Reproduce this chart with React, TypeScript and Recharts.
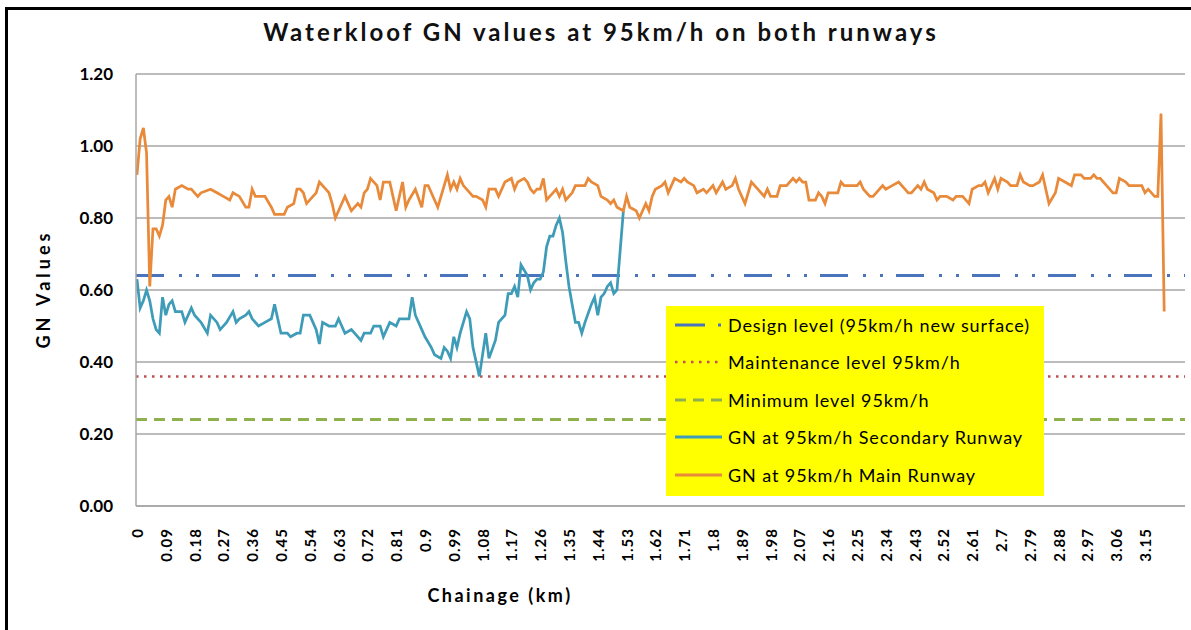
import React from "react";
import {
  LineChart,
  Line,
  XAxis,
  YAxis,
  CartesianGrid,
  ReferenceLine,
  Legend,
} from "recharts";

const FONT = "Lato, 'Open Sans', sans-serif";

// chainage (km) / GN readings, main runway
const mainChainage = [
  0.0, 0.01, 0.02, 0.03, 0.04, 0.05, 0.06, 0.07, 0.08, 0.09, 0.1, 0.11, 0.12, 0.14, 0.16, 0.17, 0.18, 0.19, 0.2,
  0.23, 0.25, 0.27, 0.29, 0.3, 0.32, 0.34, 0.35, 0.36, 0.37, 0.4, 0.42, 0.43, 0.45, 0.46, 0.47, 0.49, 0.5, 0.51,
  0.52, 0.53, 0.55, 0.56, 0.57, 0.59, 0.6, 0.61, 0.62, 0.63, 0.65, 0.66, 0.67, 0.69, 0.7, 0.71, 0.72, 0.73, 0.75,
  0.76, 0.77, 0.79, 0.8, 0.81, 0.83, 0.84, 0.85, 0.87, 0.89, 0.9, 0.91, 0.93, 0.94, 0.96, 0.97, 0.98, 0.99, 1.0,
  1.01, 1.02, 1.03, 1.05, 1.06, 1.08, 1.09, 1.1, 1.12, 1.13, 1.15, 1.17, 1.18, 1.19, 1.21, 1.22, 1.23, 1.24, 1.25,
  1.26, 1.27, 1.28, 1.3, 1.31, 1.32, 1.33, 1.34, 1.36, 1.37, 1.4, 1.41, 1.42, 1.44, 1.45, 1.47, 1.48, 1.49, 1.5,
  1.52, 1.53, 1.54, 1.56, 1.57, 1.58, 1.59, 1.6, 1.61, 1.62, 1.64, 1.65, 1.66, 1.67, 1.68, 1.7, 1.71, 1.72, 1.74,
  1.75, 1.77, 1.78, 1.8, 1.81, 1.83, 1.84, 1.86, 1.87, 1.88, 1.9, 1.91, 1.92, 1.94, 1.96, 1.97, 1.98, 2.0, 2.01,
  2.02, 2.03, 2.05, 2.06, 2.07, 2.08, 2.09, 2.1, 2.12, 2.13, 2.14, 2.15, 2.16, 2.18, 2.19, 2.2, 2.21, 2.23, 2.25,
  2.26, 2.27, 2.29, 2.3, 2.31, 2.33, 2.34, 2.36, 2.38, 2.4, 2.41, 2.42, 2.44, 2.45, 2.46, 2.47, 2.49, 2.5, 2.51,
  2.53, 2.55, 2.56, 2.58, 2.6, 2.61, 2.63, 2.64, 2.65, 2.66, 2.67, 2.68, 2.69, 2.7, 2.72, 2.73, 2.75, 2.76, 2.77,
  2.79, 2.8, 2.82, 2.83, 2.84, 2.85, 2.87, 2.88, 2.9, 2.92, 2.93, 2.95, 2.96, 2.98, 2.99, 3.0, 3.01, 3.03, 3.05,
  3.06, 3.07, 3.09, 3.1, 3.12, 3.14, 3.15, 3.16, 3.18, 3.19, 3.2, 3.21,
];
const mainGN = [
  0.92, 1.02, 1.05, 0.98, 0.61, 0.77, 0.77, 0.75, 0.78, 0.85, 0.86, 0.83, 0.88, 0.89, 0.88, 0.88, 0.87, 0.86, 0.87,
  0.88, 0.87, 0.86, 0.85, 0.87, 0.86, 0.83, 0.83, 0.88, 0.86, 0.86, 0.83, 0.81, 0.81, 0.81, 0.83, 0.84, 0.88, 0.88,
  0.87, 0.84, 0.86, 0.87, 0.9, 0.88, 0.87, 0.84, 0.8, 0.82, 0.86, 0.84, 0.82, 0.84, 0.83, 0.87, 0.88, 0.91, 0.89,
  0.85, 0.9, 0.9, 0.86, 0.82, 0.9, 0.83, 0.85, 0.88, 0.83, 0.89, 0.89, 0.85, 0.83, 0.89, 0.92, 0.88, 0.9, 0.88,
  0.91, 0.89, 0.88, 0.86, 0.86, 0.85, 0.83, 0.88, 0.88, 0.86, 0.9, 0.91, 0.88, 0.9, 0.91, 0.9, 0.88, 0.87, 0.88,
  0.88, 0.91, 0.85, 0.87, 0.88, 0.86, 0.88, 0.85, 0.87, 0.89, 0.89, 0.91, 0.9, 0.89, 0.86, 0.85, 0.84, 0.85, 0.83,
  0.82, 0.86, 0.83, 0.82, 0.8, 0.82, 0.84, 0.82, 0.86, 0.88, 0.89, 0.9, 0.87, 0.89, 0.91, 0.9, 0.91, 0.9, 0.89,
  0.87, 0.88, 0.87, 0.89, 0.87, 0.9, 0.88, 0.89, 0.91, 0.88, 0.84, 0.87, 0.9, 0.88, 0.86, 0.88, 0.86, 0.86, 0.89,
  0.89, 0.89, 0.91, 0.9, 0.91, 0.9, 0.9, 0.85, 0.85, 0.87, 0.86, 0.84, 0.87, 0.87, 0.87, 0.9, 0.89, 0.89, 0.89,
  0.9, 0.88, 0.86, 0.86, 0.87, 0.89, 0.88, 0.89, 0.9, 0.88, 0.87, 0.87, 0.89, 0.88, 0.9, 0.88, 0.87, 0.85, 0.86,
  0.86, 0.85, 0.86, 0.86, 0.84, 0.88, 0.89, 0.89, 0.9, 0.87, 0.89, 0.91, 0.88, 0.91, 0.9, 0.89, 0.89, 0.92, 0.9,
  0.89, 0.89, 0.9, 0.92, 0.88, 0.84, 0.87, 0.91, 0.9, 0.89, 0.92, 0.92, 0.91, 0.91, 0.92, 0.91, 0.91, 0.89, 0.87,
  0.87, 0.91, 0.9, 0.89, 0.89, 0.89, 0.87, 0.88, 0.86, 0.86, 1.09, 0.54,
];

// chainage (km) / GN readings, secondary runway
const secChainage = [
  0.0, 0.01, 0.02, 0.03, 0.04, 0.05, 0.06, 0.07, 0.08, 0.09, 0.1, 0.11, 0.12, 0.14, 0.15, 0.17, 0.18, 0.2, 0.22,
  0.23, 0.25, 0.26, 0.28, 0.3, 0.31, 0.32, 0.34, 0.35, 0.36, 0.38, 0.4, 0.42, 0.43, 0.44, 0.45, 0.47, 0.48, 0.5,
  0.51, 0.52, 0.54, 0.55, 0.56, 0.57, 0.58, 0.6, 0.62, 0.63, 0.65, 0.67, 0.68, 0.7, 0.71, 0.73, 0.74, 0.76, 0.77,
  0.79, 0.81, 0.82, 0.84, 0.85, 0.86, 0.87, 0.88, 0.89, 0.9, 0.92, 0.93, 0.95, 0.96, 0.97, 0.98, 0.99, 1.0, 1.01,
  1.03, 1.04, 1.05, 1.07, 1.08, 1.09, 1.1, 1.12, 1.13, 1.15, 1.16, 1.17, 1.18, 1.19, 1.2, 1.22, 1.23, 1.24, 1.25,
  1.26, 1.27, 1.28, 1.29, 1.3, 1.31, 1.32, 1.33, 1.34, 1.35, 1.36, 1.37, 1.38, 1.39, 1.4, 1.42, 1.43, 1.44, 1.45,
  1.46, 1.47, 1.48, 1.49, 1.5, 1.51, 1.52,
];
const secGN = [
  0.63, 0.55, 0.57, 0.6, 0.57, 0.52, 0.49, 0.48, 0.58, 0.53, 0.56, 0.57, 0.54, 0.54, 0.51, 0.55, 0.53, 0.51, 0.48,
  0.53, 0.51, 0.49, 0.51, 0.54, 0.51, 0.52, 0.53, 0.54, 0.52, 0.5, 0.51, 0.52, 0.56, 0.52, 0.48, 0.48, 0.47, 0.48,
  0.48, 0.53, 0.53, 0.51, 0.49, 0.45, 0.51, 0.5, 0.5, 0.52, 0.48, 0.49, 0.48, 0.46, 0.48, 0.48, 0.5, 0.5, 0.47,
  0.51, 0.5, 0.52, 0.52, 0.52, 0.58, 0.53, 0.51, 0.49, 0.47, 0.44, 0.42, 0.41, 0.44, 0.43, 0.41, 0.47, 0.44, 0.48,
  0.54, 0.52, 0.44, 0.36, 0.42, 0.48, 0.41, 0.46, 0.51, 0.53, 0.59, 0.59, 0.61, 0.58, 0.67, 0.64, 0.6, 0.62, 0.63,
  0.63, 0.65, 0.72, 0.75, 0.75, 0.78, 0.8, 0.76, 0.68, 0.61, 0.56, 0.51, 0.51, 0.48, 0.51, 0.56, 0.58, 0.53, 0.58,
  0.59, 0.61, 0.62, 0.59, 0.6, 0.71, 0.82,
];

const designLevel = 0.64;
const maintenanceLevel = 0.36;
const minimumLevel = 0.24;

const xTicks = [
  0, 0.09, 0.18, 0.27, 0.36, 0.45, 0.54, 0.63, 0.72, 0.81, 0.9, 0.99, 1.08, 1.17, 1.26, 1.35, 1.44, 1.53, 1.62,
  1.71, 1.8, 1.89, 1.98, 2.07, 2.16, 2.25, 2.34, 2.43, 2.52, 2.61, 2.7, 2.79, 2.88, 2.97, 3.06, 3.15,
];
const yTicks = [0, 0.2, 0.4, 0.6, 0.8, 1.0, 1.2];

const COLORS = {
  design: "#4a74bb",
  maintenance: "#c0504d",
  minimum: "#8fb04f",
  secondary: "#3f9cb9",
  main: "#e88a3a",
};

const legendItems = [
  { label: "Design level (95km/h new surface)", color: COLORS.design, dash: "30 13 3 20", width: 3 },
  { label: "Maintenance level 95km/h", color: COLORS.maintenance, dash: "2.5 5.5", width: 2.5 },
  { label: "Minimum level 95km/h", color: COLORS.minimum, dash: "11 7", width: 3 },
  { label: "GN at 95km/h Secondary Runway", color: COLORS.secondary, dash: undefined, width: 3 },
  { label: "GN at 95km/h Main Runway", color: COLORS.main, dash: undefined, width: 3 },
];

const fmtChainage = (v: number) => String(Number(v.toFixed(2)));

function ChainageTick(props: any) {
  const { x, y, payload } = props;
  const ty = y + 22;
  return (
    <text
      x={x}
      y={ty}
      transform={`rotate(-90 ${x} ${ty})`}
      textAnchor="end"
      dominantBaseline="central"
      fontFamily={FONT}
      fontWeight={700}
      fontSize={15}
      letterSpacing={1}
      fill="#000"
    >
      {fmtChainage(payload.value)}
    </text>
  );
}

function GNLegend() {
  return (
    <div
      style={{
        width: 378,
        height: 190,
        background: "#ffff00",
        fontFamily: FONT,
        fontSize: 18,
        color: "#000",
        letterSpacing: 0.9,
      }}
    >
      {legendItems.map((item) => (
        <div key={item.label} style={{ display: "flex", alignItems: "center", height: 37.5 }}>
          <svg width={62} height={10} style={{ flex: "none" }}>
            <line
              x1={9}
              x2={56}
              y1={5}
              y2={5}
              stroke={item.color}
              strokeWidth={item.width}
              strokeDasharray={item.dash}
            />
          </svg>
          <span style={{ whiteSpace: "nowrap" }}>{item.label}</span>
        </div>
      ))}
    </div>
  );
}

export default function App() {
  const mainData = mainChainage.map((c, i) => ({ c, gn: mainGN[i] }));
  const secData = secChainage.map((c, i) => ({ c, gn: secGN[i] }));

  return (
    <div style={{ position: "absolute", left: 0, top: 0, width: 1191, height: 630, background: "#fff", overflow: "hidden" }}>
      <div
        style={{
          position: "absolute",
          left: 5,
          top: 7,
          width: 1191,
          height: 630,
          borderLeft: "3px solid #000",
          borderTop: "3px solid #000",
        }}
      />
      <LineChart width={1191} height={630} margin={{ top: 74, right: 6, bottom: 24, left: 66 }}>
        <CartesianGrid vertical={false} stroke="#a6a6a6" strokeWidth={1.5} />
        <XAxis
          type="number"
          dataKey="c"
          domain={[-0.003, 3.275]}
          ticks={xTicks}
          interval={0}
          allowDataOverflow
          height={100}
          tickLine={false}
          tickSize={0}
          tickMargin={0}
          axisLine={{ stroke: "#a6a6a6", strokeWidth: 1.5 }}
          tick={<ChainageTick />}
        />
        <YAxis
          type="number"
          domain={[0, 1.2]}
          ticks={yTicks}
          width={70}
          tickLine={false}
          tickSize={0}
          tickMargin={23}
          axisLine={{ stroke: "#a6a6a6", strokeWidth: 1.5 }}
          tickFormatter={(v: number) => v.toFixed(2)}
          tick={{ fill: "#000", fontSize: 17, fontWeight: 700, fontFamily: FONT }}
        />
        <ReferenceLine y={designLevel} stroke={COLORS.design} strokeWidth={3} strokeDasharray="28 15 3 14 3 13" />
        <ReferenceLine y={maintenanceLevel} stroke={COLORS.maintenance} strokeWidth={2.5} strokeDasharray="2.5 5.5" />
        <ReferenceLine y={minimumLevel} stroke={COLORS.minimum} strokeWidth={3} strokeDasharray="11 7" />
        <Line
          data={secData}
          dataKey="gn"
          type="linear"
          stroke={COLORS.secondary}
          strokeWidth={2.75}
          dot={false}
          isAnimationActive={false}
        />
        <Line
          data={mainData}
          dataKey="gn"
          type="linear"
          stroke={COLORS.main}
          strokeWidth={2.75}
          dot={false}
          isAnimationActive={false}
        />
        <Legend
          content={<GNLegend />}
          layout="vertical"
          align="center"
          verticalAlign="middle"
          wrapperStyle={{ left: 666, top: 306, width: 378, height: 190 }}
        />
      </LineChart>
      <svg
        width={1191}
        height={630}
        style={{ position: "absolute", left: 0, top: 0, pointerEvents: "none" }}
      >
        <text x={601} y={41} textAnchor="middle" fontFamily={FONT} fontWeight={700} fontSize={24} letterSpacing={3} fill="#111">
          Waterkloof GN values at 95km/h on both runways
        </text>
        <text
          x={50}
          y={289}
          transform="rotate(-90 50 289)"
          textAnchor="middle"
          fontFamily={FONT}
          fontWeight={700}
          fontSize={18}
          letterSpacing={4}
          fill="#000"
        >
          GN Values
        </text>
        <text x={500} y={602} textAnchor="middle" fontFamily={FONT} fontWeight={700} fontSize={18} letterSpacing={2.5} fill="#000">
          Chainage (km)
        </text>
      </svg>
    </div>
  );
}
